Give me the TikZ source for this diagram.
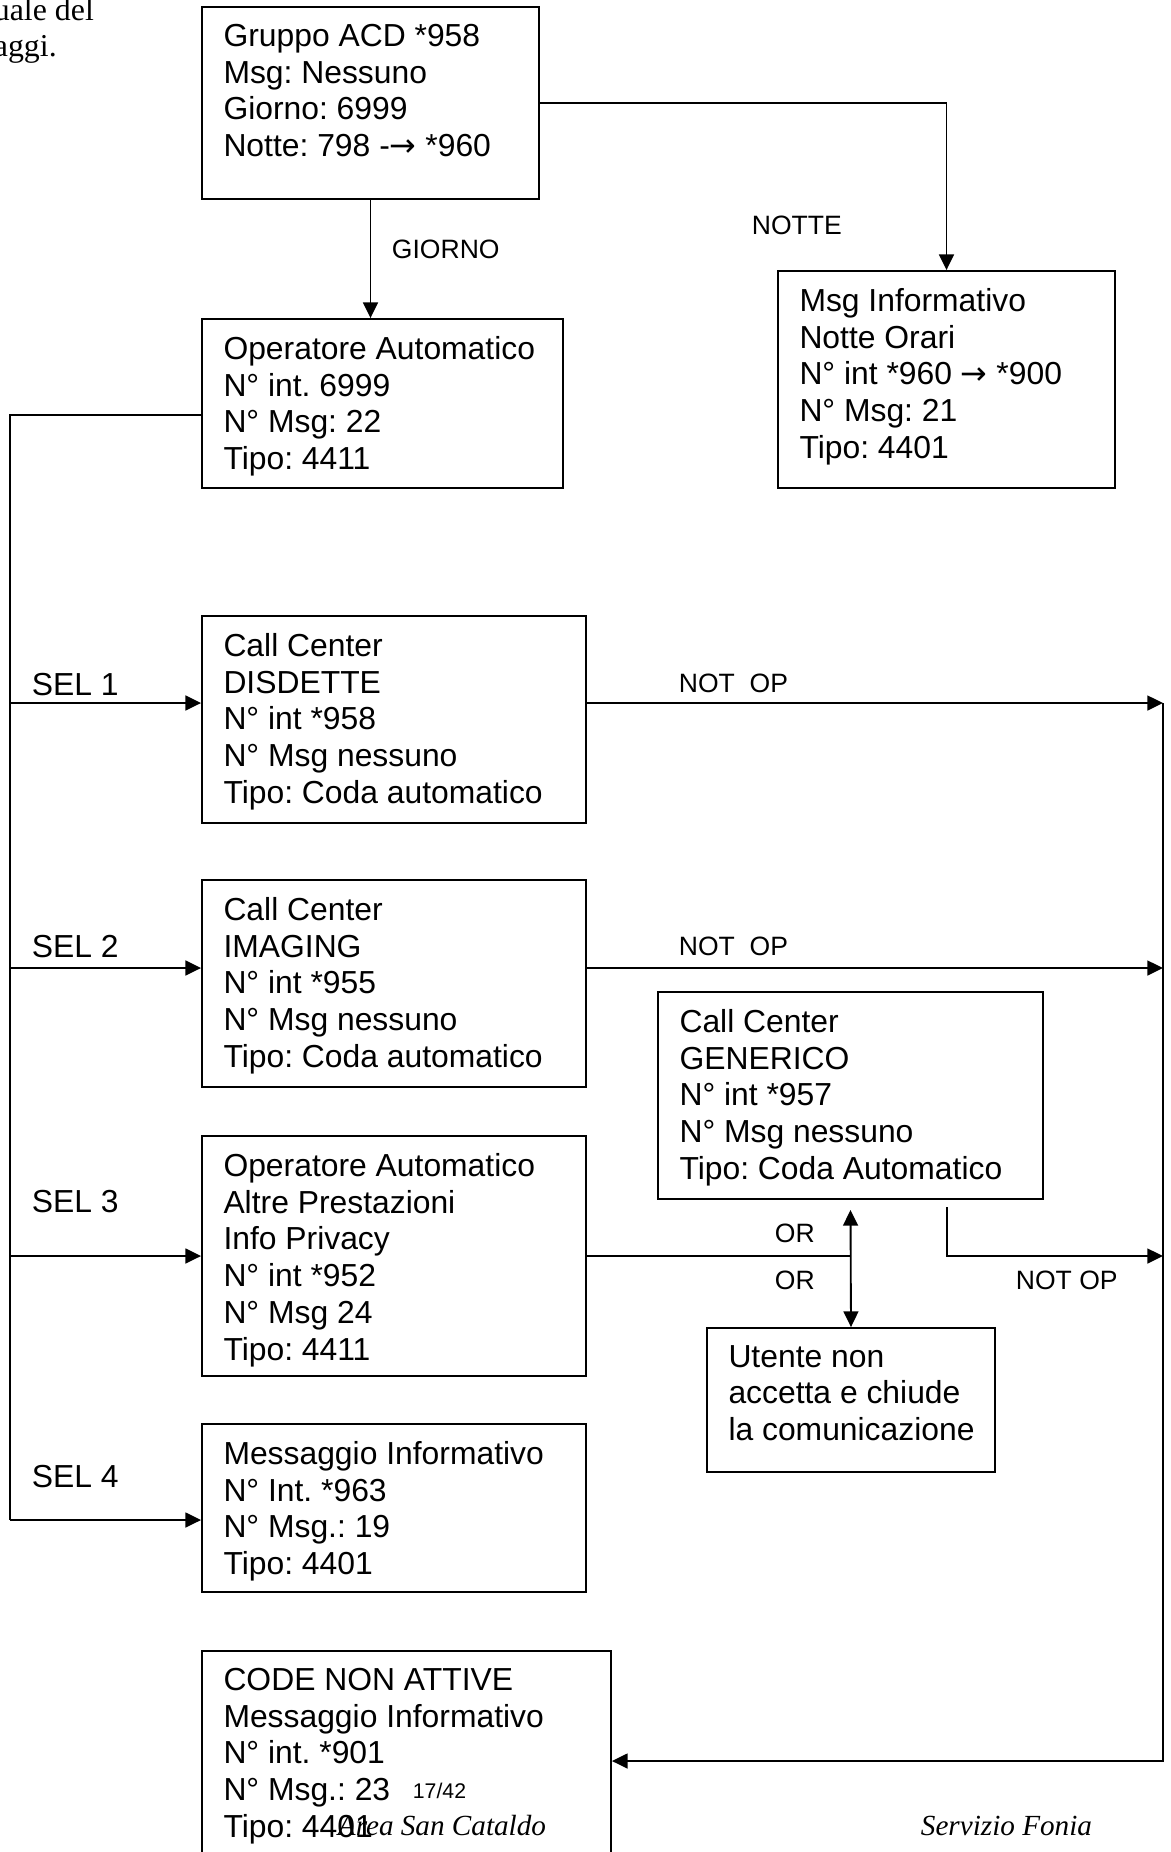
\documentclass[tikz,border=0pt]{standalone}
\usepackage{fontspec}
\setmainfont{Liberation Sans}
\newfontfamily\tondo{Liberation Serif}
\newfontfamily\simboli{DejaVu Sans}
\frenchspacing
\usetikzlibrary{arrows.meta,fit,calc}
\tikzset{
  riquadro/.style={draw, inner sep=0pt},
  testo/.style={anchor=north west, inner sep=0pt, align=left, font=\fontsize{12}{13.85}\selectfont},
  etichetta/.style={anchor=base west, inner sep=0pt, font=\fontsize{10}{12}\selectfont},
  scelta/.style={anchor=base west, inner sep=0pt, font=\fontsize{12}{13.85}\selectfont},
  corsivo/.style={anchor=base west, inner sep=0pt, font=\tondo\itshape\fontsize{11}{13}\selectfont},
  frammento/.style={anchor=base west, inner sep=0pt, font=\tondo\fontsize{12}{13.8}\selectfont},
}
\newcommand{\freccia}{{\simboli →}}
% riquadro con testo: nome, angolo in alto a sinistra, angolo in basso a destra, righe
\newcommand{\blocco}[4]{%
  \node[riquadro, fit={#2 #3}] (#1) {};
  \node[testo] (#1-t) at ([shift={(21.5,17.2)}]#1.north west) {#4};
}

\begin{document}
\begin{tikzpicture}[x=0.3768pt, y=-0.3768pt, line width=0.7pt, >={Triangle[length=5.9pt, width=5.6pt]}]
    \useasboundingbox (0,0) rectangle (1171,1852);
    \clip (0,0) rectangle (1171,1852);
    % resto della pagina, tagliato a sinistra
    \node[frammento] (fr1) at (-7,20) {uale del};
    \node[frammento] (fr2) at (-7,56) {aggi.};

    \blocco{acd}{(202,7)}{(539,199)}{Gruppo ACD *958\\Msg: Nessuno\\Giorno: 6999\\Notte: 798 -\freccia{} *960}
    \blocco{notte}{(778,271)}{(1115,488)}{Msg Informativo\\Notte Orari\\N° int *960 \freccia{} *900\\N° Msg: 21\\Tipo: 4401}
    \blocco{op1}{(202,319)}{(563,488)}{Operatore Automatico\\N° int. 6999\\N° Msg: 22\\Tipo: 4411}
    \blocco{disd}{(202,616)}{(586,823)}{Call Center\\DISDETTE\\N° int *958\\N° Msg nessuno\\Tipo: Coda automatico}
    \blocco{imag}{(202,880)}{(586,1087)}{Call Center\\IMAGING\\N° int *955\\N° Msg nessuno\\Tipo: Coda automatico}
    \blocco{genr}{(658,992)}{(1043,1199)}{Call Center\\GENERICO\\N° int *957\\N° Msg nessuno\\Tipo: Coda Automatico}
    \blocco{altre}{(202,1136)}{(586,1376)}{Operatore Automatico\\Altre Prestazioni\\Info Privacy\\N° int *952\\N° Msg 24\\Tipo: 4411}
    \blocco{utente}{(707,1328)}{(995,1472)}{Utente non\\accetta e chiude\\la comunicazione}
    \blocco{msgfin}{(202,1424)}{(586,1592)}{Messaggio Informativo\\N° Int. *963\\N° Msg.: 19\\Tipo: 4401}
    \blocco{code}{(202,1651)}{(611,1900)}{CODE NON ATTIVE\\Messaggio Informativo\\N° int. *901\\N° Msg.: 23\\Tipo: 4401}

    % giorno / notte
    \draw[->] (acd.east) -| (notte.north);
    \draw[->] (acd.south) -- (acd.south |- op1.north);
    \node[etichetta] (lnotte) at (751,234) {NOTTE};
    \node[etichetta] (lgiorno) at (391,258) {GIORNO};

    % selezioni a sinistra
    \coordinate (tr0) at (10,415);
    \coordinate (tr1) at (10,703);
    \coordinate (tr2) at (10,968);
    \coordinate (tr3) at (10,1256);
    \coordinate (tr4) at (10,1520);
    \draw (op1.west |- tr0) -- (tr0) -- (tr4);
    \draw[->] (tr1) -- (tr1 -| disd.west);
    \draw[->] (tr2) -- (tr2 -| imag.west);
    \draw[->] (tr3) -- (tr3 -| altre.west);
    \draw[->] (tr4) -- (tr4 -| msgfin.west);
    \node[scelta] (sel1) at (31,695) {SEL 1};
    \node[scelta] (sel2) at (31,957) {SEL 2};
    \node[scelta] (sel3) at (31,1212) {SEL 3};
    \node[scelta] (sel4) at (31,1487) {SEL 4};

    % operatori non disponibili, a destra
    \coordinate (dx1) at (1163,703);
    \coordinate (dx2) at (1163,968);
    \coordinate (dx3) at (1163,1256);
    \coordinate (dx4) at (1163,1761);
    \draw[->] (tr1 -| disd.east) -- (dx1);
    \draw[->] (tr2 -| imag.east) -- (dx2);
    \draw[->] (dx1) -- (dx4) -- (dx4 -| code.east);
    \node[etichetta] (nop1) at (678,692) {NOT\ \ OP};
    \node[etichetta] (nop2) at (678,955) {NOT\ \ OP};

    % generico oppure chiusura
    \path (genr.south) ++(0,10) coordinate (orsu);
    \coordinate (gnot) at (947,1207);
    \draw (altre.east) -- (altre.east -| utente.north);
    \draw[<->] (orsu) -- (utente.north);
    \draw[->] (gnot) |- (dx3);
    \node[etichetta] (or1) at (774,1242) {OR};
    \node[etichetta] (or2) at (774,1289) {OR};
    \node[etichetta] (nop3) at (1015,1289) {NOT OP};

    % pie' di pagina
    \node[anchor=base west, inner sep=0pt, font=\fontsize{8}{9}\selectfont] (pagina) at (412,1798) {17/42};
    \node[corsivo] (area) at (337,1835) {Area San Cataldo};
    \node[corsivo] (servizio) at (920,1835) {Servizio Fonia};
\end{tikzpicture}
\end{document}
